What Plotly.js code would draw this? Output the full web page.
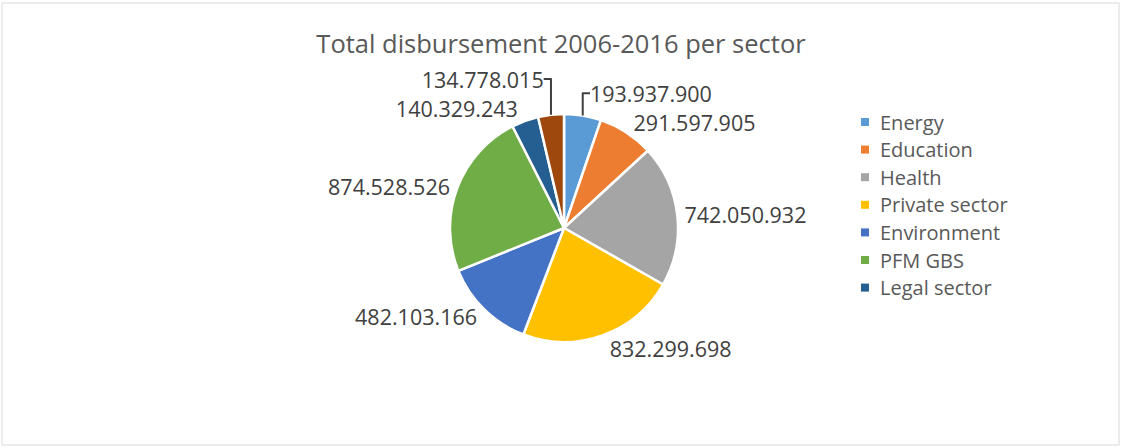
<!DOCTYPE html>
<html>
<head>
<meta charset="utf-8">
<script src="https://cdn.plot.ly/plotly-3.0.1.min.js"></script>
<style>html,body{margin:0;padding:0;background:#fff}#chart{width:1122px;height:448px}</style>
</head>
<body>
<div id="chart"></div>
<script>
const categories = ["Energy","Education","Health","Private sector","Environment","PFM GBS","Legal sector","Other"];
const values = [193937900,291597905,742050932,832299698,482103166,874528526,140329243,134778015];
const valueLabels = ["193.937.900","291.597.905","742.050.932","832.299.698","482.103.166","874.528.526","140.329.243","134.778.015"];
const colors = ["#5B9BD5","#ED7D31","#A5A5A5","#FFC000","#4472C4","#70AD47","#255E91","#9E480E"];
const legendCount = 7;

const W = 1122, H = 448;
const px = x => x / W, py = y => 1 - y / H;
const cx = 564, cy = 228, r = 114;

const trace = {
  type: "pie",
  labels: categories,
  values: values,
  text: valueLabels,
  textinfo: "text",
  textposition: "outside",
  sort: false,
  direction: "clockwise",
  rotation: 0,
  marker: {colors: colors, line: {color: "#ffffff", width: 2.5}},
  outsidetextfont: {family: "Open Sans, sans-serif", size: 21.5, color: "#404040"},
  domain: {x: [px(cx - r), px(cx + r)], y: [py(cy + r), py(cy - r)]},
  hoverinfo: "label+value",
  showlegend: false
};

const shapes = [{type: "rect", xref: "paper", yref: "paper", x0: px(2), x1: px(1119), y0: py(445), y1: py(3), line: {color: "#D9D9D9", width: 1}, fillcolor: "rgba(0,0,0,0)"}];
const annotations = [];
const legX = 865, legY0 = 122, legStep = 27.6;
for (let i = 0; i < legendCount; i++) {
  const y = legY0 + i * legStep;
  shapes.push({type: "rect", xref: "paper", yref: "paper", x0: px(legX - 4), x1: px(legX + 4), y0: py(y + 4), y1: py(y - 4), line: {width: 0}, fillcolor: colors[i]});
  annotations.push({xref: "paper", yref: "paper", x: px(legX + 13), y: py(y), xanchor: "left", yanchor: "middle", showarrow: false, text: categories[i], font: {family: "Open Sans, sans-serif", size: 20, color: "#595959"}});
}

const layout = {
  width: W, height: H,
  margin: {l: 0, r: 0, t: 0, b: 0},
  paper_bgcolor: "#ffffff",
  title: {text: "Total disbursement 2006-2016 per sector", font: {family: "Open Sans, sans-serif", size: 25.5, color: "#595959"}, x: 0.5, xanchor: "center", y: py(44), yanchor: "middle", yref: "paper"},
  showlegend: false,
  shapes: shapes,
  annotations: annotations
};

Plotly.newPlot("chart", [trace], layout, {displayModeBar: false, staticPlot: true});
</script>
</body>
</html>
